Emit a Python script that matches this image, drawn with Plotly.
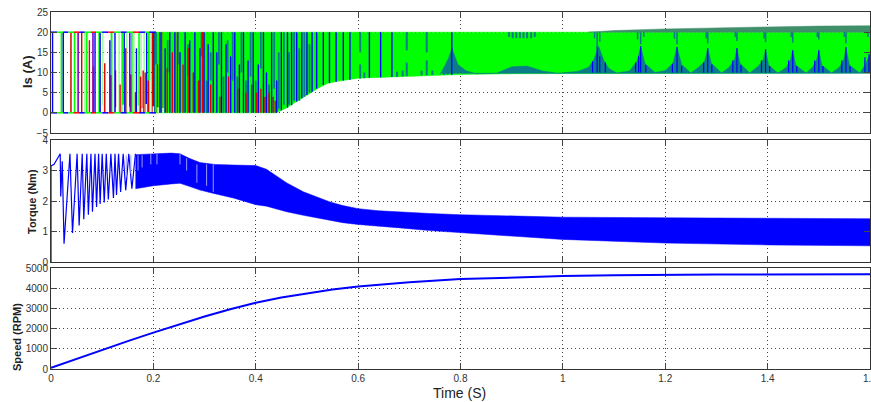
import plotly.graph_objects as go

W, H = 871, 402
LEFT, RIGHT = 51, 870
XTICKS = [0, 0.2, 0.4, 0.6, 0.8, 1, 1.2, 1.4, 1.6]
XLABELS = ["0", "0.2", "0.4", "0.6", "0.8", "1", "1.2", "1.4", "1.6"]

# ---- Is (A): envelope of the green region
green_t = [0.20, 0.44, 0.46, 0.48, 0.50, 0.52, 0.54, 0.56, 0.60, 0.70, 0.80, 0.90, 1.00, 1.60]
green_low = [0.0, 0.0, 1.2, 2.8, 4.4, 6.0, 7.3, 7.8, 8.6, 9.0, 9.5, 9.7, 9.8, 9.9]
green_high = [20, 20, 20, 20, 20, 20, 20, 20, 20, 20, 20, 20, 20, 20]

# thin band above 20 A late in the run
over_t = [1.05, 1.10, 1.20, 1.30, 1.40, 1.50, 1.60]
over_high = [20.0, 20.4, 20.8, 21.1, 21.3, 21.5, 21.6]

# sparse early pulses
lightgreen_t = [0.019, 0.039, 0.066, 0.101, 0.120, 0.133, 0.148, 0.162, 0.176, 0.182, 0.193]
green_line_t = [0.021, 0.046, 0.070, 0.094, 0.118, 0.139, 0.158, 0.172, 0.191, 0.205, 0.218]
blue_t = [0.003, 0.024, 0.086, 0.096, 0.115, 0.125, 0.143, 0.154, 0.167, 0.187, 0.201, 0.213, 0.223,
          0.232, 0.242, 0.252, 0.262, 0.271, 0.281, 0.291, 0.299, 0.307, 0.317, 0.324, 0.333, 0.342,
          0.351, 0.359, 0.368, 0.376, 0.385, 0.395, 0.405, 0.415, 0.421, 0.431, 0.441]
blue_low = [0, 0, 0, 0, 0, 0, 0, 0, 0, 0, 0, 0, 0,
            0, 0, 0, 0, 0, 0, 0, 0, 0, 0, 0, 0, 0,
            0, 0, 0, 0, 0, 0, 0, 0, 0, 0, 0]
blue_high = [20, 20, 20, 20, 18, 20, 20, 20, 16, 20, 20, 20, 16,
             20, 20, 15, 20, 18, 20, 16, 20, 17, 20, 15, 20, 17,
             14, 20, 12, 20, 13, 20, 12, 20, 10, 20, 8]
purple_t = [0.053, 0.082]
red_t = [0.039, 0.060, 0.075, 0.083, 0.105, 0.117, 0.126, 0.135, 0.146, 0.156, 0.165, 0.175, 0.180, 0.184,
         0.190, 0.198, 0.208, 0.216, 0.227, 0.237, 0.247, 0.258, 0.268, 0.278, 0.288, 0.296, 0.312, 0.330,
         0.347, 0.365, 0.381, 0.392, 0.402, 0.410, 0.418, 0.426, 0.434, 0.438]
red_high = [20, 20, 18, 11.5, 12.3, 9.3, 10.5, 7.0, 16, 9.5, 5, 9, 10.5, 10,
            8, 20, 12, 20, 11, 15, 20, 12, 16, 10, 8, 20, 7, 4,
            9, 6, 5, 7, 5, 6, 4, 5, 4, 3]
teal_t = [0.205, 0.228, 0.248, 0.268, 0.294, 0.304, 0.312, 0.328, 0.337, 0.345, 0.355, 0.364, 0.372, 0.381, 0.390, 0.400, 0.410, 0.426, 0.436,
          0.445, 0.455, 0.465, 0.475, 0.485, 0.495, 0.505]
teal_low = [12, 10, 12, 9, 14, 0, 8, 12, 0, 10, 8, 0, 10, 0, 9, 0, 11, 0, 6,
            1, 2, 2, 3, 3, 4, 5]
teal_high = [20, 18, 20, 17, 20, 8, 15, 20, 9, 18, 20, 9, 20, 8, 20, 8, 20, 7, 20,
             15, 20, 15, 20, 16, 20, 17]
white_t = [0.100, 0.112, 0.128, 0.141, 0.152, 0.170, 0.178, 0.186, 0.200, 0.209, 0.219]
white_high = [1.8, 1.6, 1.4, 2.0, 1.5, 1.8, 1.2, 2.2, 1.6, 1.4, 1.2]

# blue strokes through the middle section
mid_t = [0.450, 0.462, 0.470, 0.480, 0.490, 0.500, 0.510, 0.519, 0.532, 0.544, 0.557, 0.571, 0.584, 0.622, 0.644, 0.666, 0.783]
mid_low = [0.6, 1.3, 1.9, 2.8, 3.6, 4.4, 5.2, 6.0, 6.9, 7.4, 7.7, 8.0, 8.2, 8.7, 8.8, 8.9, 9.5]
mid_high = [20, 20, 20, 20, 20, 20, 20, 20, 20, 20, 20, 20, 20, 20, 20, 20, 20]
strip_top_t = [0.604, 0.695, 0.734, 0.895, 0.902, 0.909, 0.916, 0.923, 0.930, 0.938, 0.945]
strip_top_low = [15.0, 15.5, 15.0, 18.8, 18.5, 18.5, 18.5, 18.5, 18.5, 18.5, 18.8]
strip_bot_t = [0.604, 0.612, 0.676, 0.687, 0.695, 0.724, 0.734, 0.745, 0.768, 0.775]
strip_bot_low = [8.5, 8.6, 8.9, 9.0, 9.1, 9.3, 9.3, 9.4, 9.4, 9.5]
strip_bot_high = [12.0, 10.0, 10.2, 10.5, 12.5, 10.5, 13.0, 10.5, 11.0, 13.0]

# scalloped teal humps rising from the lower edge
hump_t = [0.76, 0.775, 0.783, 0.795, 0.81, 0.83, 0.87, 0.90, 0.93, 0.96, 0.99, 1.03, 1.05, 1.06, 1.07, 1.08, 1.09, 1.105,
          1.13, 1.145, 1.152, 1.16, 1.18, 1.20, 1.215, 1.223, 1.232, 1.25, 1.265, 1.277, 1.283, 1.29, 1.31,
          1.325, 1.336, 1.34, 1.346, 1.365, 1.382, 1.392, 1.396, 1.402, 1.42, 1.437, 1.445, 1.449, 1.455, 1.475,
          1.488, 1.496, 1.50, 1.506, 1.525, 1.54, 1.549, 1.553, 1.56, 1.58, 1.59, 1.598, 1.60]
hump_high = [9.5, 13.0, 16.0, 12.0, 10.5, 9.7, 9.8, 11.4, 11.6, 10.4, 9.8, 10.3, 11.3, 13.0, 16.5, 13.0, 11.0, 9.9,
             10.4, 12.8, 16.5, 12.3, 10.0, 10.5, 12.3, 16.3, 12.0, 9.9, 11.3, 12.8, 16.0, 12.3, 9.9,
             11.3, 13.3, 16.0, 12.3, 9.9, 11.6, 13.3, 15.8, 11.8, 9.9, 11.3, 13.3, 15.5, 11.8, 9.9,
             11.3, 13.3, 15.5, 11.8, 9.9, 11.3, 13.3, 16.0, 11.8, 9.9, 11.8, 14.0, 14.5]
spike_t = [0.783, 1.067, 1.072, 1.152, 1.148, 1.223, 1.283, 1.34, 1.396, 1.449, 1.50, 1.553, 1.598,
           1.058, 1.083, 1.142, 1.162, 1.214, 1.232, 1.275, 1.291, 1.332, 1.348, 1.388, 1.404, 1.441, 1.457, 1.492, 1.508, 1.545, 1.561, 1.59]
spike_low = [9.5, 10, 10, 10, 10, 10, 10, 10, 10, 10, 10, 10, 10,
             10, 10, 10, 10, 10, 10, 10, 10, 10, 10, 10, 10, 10, 10, 10, 10, 10, 10, 10]
spike_high = [16.0, 16.5, 14.0, 16.5, 14.0, 16.3, 16.0, 16.0, 15.8, 15.5, 15.5, 16.3, 14.5,
              12.8, 12.5, 12.5, 11.8, 12.2, 11.6, 12.5, 12.0, 13.0, 11.8, 13.0, 11.6, 13.0, 11.6, 13.0, 11.6, 13.0, 11.6, 13.8]
top_dip_t = [1.062, 1.067, 1.072, 1.146, 1.152, 1.158, 1.218, 1.223, 1.280, 1.283, 1.337, 1.34, 1.393, 1.396, 1.446, 1.449, 1.497, 1.50, 1.550, 1.553, 1.596]
top_dip_low = [18.5, 16.2, 17.6, 18.2, 17.0, 18.8, 18.4, 17.0, 18.5, 17.2, 18.8, 17.8, 18.5, 17.5, 18.8, 17.4, 18.8, 18.2, 18.8, 17.2, 18.8]
top_dip_high = [20, 20, 20, 20, 20, 20, 20, 20, 20, 20, 20, 20, 20, 20, 20, 20, 20, 20, 20, 20, 20]

# coloured rails along 0 A and 20 A in the sparse section
rail_start = [0.000, 0.012, 0.024, 0.034, 0.044, 0.056, 0.066, 0.078, 0.088, 0.100, 0.112, 0.124, 0.136, 0.148, 0.160, 0.172, 0.184, 0.192]
rail_end = [0.012, 0.024, 0.034, 0.044, 0.056, 0.066, 0.078, 0.088, 0.100, 0.112, 0.124, 0.136, 0.148, 0.160, 0.172, 0.184, 0.192, 0.205]
rail_colors = ["#0000ff", "#00ff00", "#0000ff", "#00ff00", "#ff0000", "#0000ff", "#00ff00", "#ff0000", "#00ff00",
               "#0000ff", "#ff0000", "#00ff00", "#0000ff", "#00ff00", "#ff0000", "#0000ff", "#00ff00", "#0000ff"]

# ---- Torque (Nm)
torque_t = [0, 0, 0.006, 0.012, 0.018, 0.019, 0.022, 0.0255, 0.037, 0.042, 0.051, 0.055, 0.061, 0.064, 0.070, 0.073,
            0.078, 0.081, 0.086, 0.089, 0.093, 0.096, 0.100, 0.104, 0.108, 0.112, 0.117, 0.122, 0.125, 0.128, 0.132,
            0.136, 0.141, 0.146, 0.152, 0.158, 0.165]
torque_v = [0, 3.15, 3.2, 3.4, 3.55, 2.15, 3.3, 0.6, 3.55, 0.95, 3.55, 1.2, 3.55, 1.4, 3.55, 1.55,
            3.55, 1.65, 3.55, 1.8, 3.55, 1.9, 3.55, 1.95, 3.55, 2.05, 3.55, 2.1, 3.55, 2.2, 3.55,
            2.3, 3.55, 2.35, 3.55, 2.4, 3.55]
band_t = [0.165, 0.20, 0.235, 0.252, 0.270, 0.291, 0.32, 0.356, 0.40, 0.421, 0.428, 0.46, 0.493, 0.52, 0.545, 0.57, 0.60,
          0.64, 0.688, 0.74, 0.80, 0.90, 1.00, 1.20, 1.40, 1.60]
band_high = [3.52, 3.55, 3.57, 3.55, 3.40, 3.26, 3.20, 3.18, 3.16, 3.04, 2.96, 2.60, 2.30, 2.12, 1.97, 1.85, 1.75,
             1.68, 1.63, 1.59, 1.55, 1.50, 1.47, 1.45, 1.43, 1.42]
band_low = [2.40, 2.50, 2.56, 2.58, 2.48, 2.36, 2.24, 2.10, 1.88, 1.83, 1.80, 1.65, 1.53, 1.44, 1.36, 1.29, 1.23,
            1.17, 1.11, 1.03, 0.96, 0.85, 0.74, 0.62, 0.56, 0.53]
gap_t = [0.147, 0.156, 0.170, 0.178, 0.195, 0.207, 0.252, 0.265, 0.285, 0.304, 0.317]
gap_low = [2.8, 2.9, 3.0, 3.1, 3.2, 3.2, 3.2, 3.0, 2.6, 2.5, 2.3]
gap_high = [3.5, 3.5, 3.5, 3.5, 3.55, 3.55, 3.55, 3.4, 3.2, 3.2, 3.2]

# ---- Speed (RPM)
speed_t = [0, 0.01, 0.02, 0.05, 0.1, 0.15, 0.2, 0.25, 0.3, 0.35, 0.4, 0.45, 0.5, 0.55, 0.6, 0.65, 0.7, 0.8, 0.9, 1.0, 1.1, 1.2, 1.3, 1.6]
speed_v = [60, 150, 230, 510, 950, 1380, 1800, 2210, 2600, 2960, 3280, 3540, 3750, 3930, 4080, 4200, 4300, 4450, 4540, 4600, 4640, 4660, 4680, 4690]

BLUE, GREEN, RED, TEAL = "#0000ff", "#00ff00", "#e00000", "#0a7d86"


def segs(ts, lows, highs):
    xs, ys = [], []
    for t, lo, hi in zip(ts, lows, highs):
        xs += [t, t, None]
        ys += [lo, hi, None]
    return xs, ys


fig = go.Figure()


def strokes(ts, lows, highs, color, width=1.4, axis="y"):
    xs, ys = segs(ts, lows, highs)
    fig.add_trace(go.Scatter(x=xs, y=ys, mode="lines", yaxis=axis, xaxis="x" if axis == "y" else "x" + axis[1:],
                             line=dict(color=color, width=width), hoverinfo="skip", showlegend=False))


def polygon(ts, lows, highs, color, axis="y"):
    fig.add_trace(go.Scatter(x=list(ts) + list(ts)[::-1], y=list(highs) + list(lows)[::-1], mode="lines",
                             fill="toself", fillcolor=color, yaxis=axis,
                             xaxis="x" if axis == "y" else "x" + axis[1:],
                             line=dict(color=color, width=0.5), hoverinfo="skip", showlegend=False))


# Is panel
polygon(green_t, green_low, green_high, GREEN)
polygon(over_t, [20] * len(over_t), over_high, "#3f8f6a")
strokes(lightgreen_t, [0] * len(lightgreen_t), [20] * len(lightgreen_t), "#9dfc9d", 1.5)
strokes(green_line_t, [0] * len(green_line_t), [20] * len(green_line_t), GREEN, 1.6)
strokes(teal_t, teal_low, teal_high, TEAL, 1.8)
strokes(purple_t, [0, 0], [20, 20], "#8000c0", 1.6)
strokes(red_t, [0] * len(red_t), red_high, RED, 1.4)
strokes(blue_t, blue_low, blue_high, BLUE, 1.4)
strokes(mid_t, mid_low, mid_high, BLUE, 1.4)
strokes(strip_top_t, strip_top_low, [20] * len(strip_top_t), TEAL, 2)
strokes(strip_bot_t, strip_bot_low, strip_bot_high, TEAL, 2)
polygon(hump_t, [9.8] * len(hump_t), hump_high, TEAL)
strokes(spike_t, spike_low, spike_high, BLUE, 1.2)
strokes(top_dip_t, top_dip_low, top_dip_high, TEAL, 1.6)
strokes(white_t, [0] * len(white_t), white_high, "#ffffff", 1.4)
for s, e, c in zip(rail_start, rail_end, rail_colors):
    for level in (0, 20):
        fig.add_trace(go.Scatter(x=[s, e], y=[level, level], mode="lines", line=dict(color=c, width=1.5),
                                 hoverinfo="skip", showlegend=False))

# Torque panel
fig.add_trace(go.Scatter(x=torque_t, y=torque_v, mode="lines", xaxis="x2", yaxis="y2",
                         line=dict(color=BLUE, width=1.2), hoverinfo="skip", showlegend=False))
polygon(band_t, band_low, band_high, BLUE, "y2")
strokes(gap_t, gap_low, gap_high, "#9a9aff", 1.0, "y2")

# Speed panel
fig.add_trace(go.Scatter(x=speed_t, y=speed_v, mode="lines", xaxis="x3", yaxis="y3",
                         line=dict(color=BLUE, width=2), hoverinfo="skip", showlegend=False))

GRID = dict(showgrid=True, gridcolor="#444444", griddash="1px,3px", gridwidth=1, zeroline=False)
TICKFONT = dict(family="Liberation Sans", size=10, color="#333333")


def xaxis(anchor, labels):
    return dict(domain=[LEFT / W, RIGHT / W], range=[0, 1.6], anchor=anchor, tickvals=XTICKS,
                ticktext=XLABELS, showticklabels=labels, ticks="inside", ticklen=6, tickwidth=1,
                tickcolor="#444444", mirror="ticks", showline=True, linecolor="#333333", linewidth=1,
                tickfont=TICKFONT, ticklabeloverflow="allow", automargin=False, **GRID)


def yaxis(top, bottom, rng, vals, anchor):
    return dict(domain=[1 - bottom / H, 1 - top / H], range=rng, tickvals=vals, ticks="inside", ticklen=6,
                anchor=anchor, tickwidth=1, tickcolor="#444444", mirror="ticks", showline=True,
                linecolor="#333333", linewidth=1, tickfont=TICKFONT, automargin=False, **GRID)


def label(text, px, py, size, angle=-90, bold=True):
    return dict(text=f"<b>{text}</b>" if bold else text, x=px / W, y=1 - py / H, xref="paper", yref="paper",
                showarrow=False, textangle=angle, xanchor="center", yanchor="middle",
                font=dict(family="Liberation Sans", size=size, color="#222222"))


fig.update_layout(
    width=W, height=H, autosize=False, margin=dict(l=0, r=0, t=0, b=0, pad=0, autoexpand=False),
    paper_bgcolor="white", plot_bgcolor="white", showlegend=False,
    xaxis=xaxis("y", False), xaxis2=xaxis("y2", False), xaxis3=xaxis("y3", True),
    yaxis=yaxis(12, 133, [-5, 25], [-5, 0, 5, 10, 15, 20, 25], "x"),
    yaxis2=yaxis(140, 262, [0, 4], [0, 1, 2, 3, 4], "x2"),
    yaxis3=yaxis(268, 369, [0, 5000], [0, 1000, 2000, 3000, 4000, 5000], "x3"),
    annotations=[
        label("Is (A)", 28, 72, 13),
        label("Torque (Nm)", 32, 202, 11),
        label("Speed (RPM)", 17, 337, 11),
        label("Time (S)", 460, 393, 14, angle=0, bold=False),
    ],
)

fig.write_html("out.html", config={"displayModeBar": False},
               post_script="document.body.style.margin='0';document.documentElement.style.overflow='hidden';")
